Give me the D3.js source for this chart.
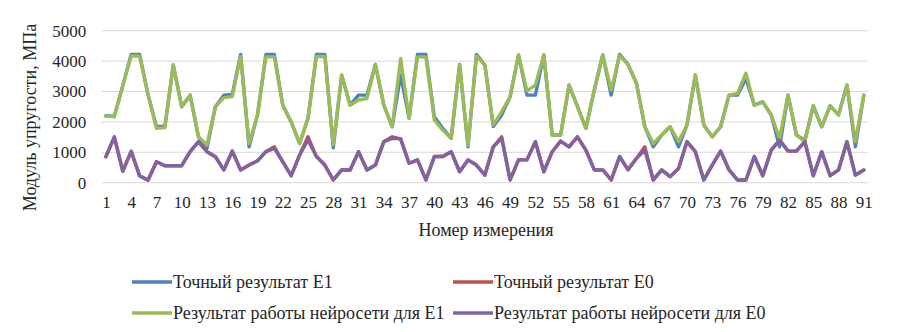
<!DOCTYPE html>
<html><head><meta charset="utf-8">
<script src="https://cdn.jsdelivr.net/npm/d3@7"></script>
<style>html,body{margin:0;padding:0;background:#fff;} svg{display:block;}</style>
</head><body>
<svg id="chart" width="900" height="332"></svg>
<script>
const xTickLabels = [1,4,7,10,13,16,19,22,25,28,31,34,37,40,43,46,49,52,55,58,61,64,67,70,73,76,79,82,85,88,91];
const yTicks = [0,1000,2000,3000,4000,5000];
const seriesNames = ["Точный результат E1","Точный результат E0","Результат работы нейросети для E1","Результат работы нейросети для E0"];
const seriesColors = ["#4F81BD","#C0504D","#9BBB59","#8064A2"];

const exactE1 = [2200,2190,3190,4220,4220,2900,1850,1850,3870,2500,2880,1500,1130,2500,2880,2900,4220,1180,2230,4220,4220,2550,2000,1290,2120,4220,4220,1150,3540,2550,2880,2880,3890,2550,1840,3540,2120,4220,4220,2170,1790,1460,3890,1180,4220,3870,1850,2230,2830,4200,2880,2880,4200,1570,1570,3210,2500,1790,3050,4200,2880,4220,3890,3270,1840,1180,1570,1840,1180,1900,3540,1900,1510,1840,2880,2880,3430,2550,2660,2230,1180,2880,1570,1400,2530,1840,2530,2230,3210,1180,2880];
const exactE0 = [855,1510,380,1030,230,80,690,560,560,560,1020,1350,1020,855,420,1040,420,580,720,1020,1180,690,230,910,1510,860,580,90,420,420,1020,420,580,1350,1510,1440,640,750,90,860,860,1020,360,750,580,250,1180,1510,90,750,750,1350,360,1020,1370,1180,1510,1070,420,420,90,860,440,800,1180,90,420,200,470,1350,1020,90,580,1040,420,90,90,860,230,1070,1400,1040,1040,1350,230,1020,230,420,1350,250,420];
const nnE1 = [2190,2170,3190,4170,4170,2900,1790,1810,3870,2500,2880,1500,1240,2500,2800,2830,4150,1290,2230,4140,4140,2550,2000,1290,2120,4150,4150,1250,3540,2550,2720,2770,3890,2550,1840,4090,2120,4140,4140,2060,1730,1460,3890,1240,4170,3870,1900,2340,2830,4200,3020,3210,4200,1570,1570,3210,2500,1790,3050,4200,3050,4180,3890,3270,1840,1290,1570,1840,1350,1900,3540,1900,1510,1840,2880,2940,3600,2550,2660,2230,1460,2880,1570,1350,2530,1840,2530,2230,3210,1350,2880];
const nnE0 = [855,1500,380,1030,230,80,690,560,560,560,1020,1350,1020,855,420,1040,420,580,720,1020,1130,690,230,910,1400,860,580,90,420,420,1020,420,580,1350,1460,1440,640,750,90,860,860,1020,360,750,580,250,1180,1460,90,750,750,1350,360,1020,1370,1180,1510,1070,420,420,90,860,420,800,1070,90,420,200,470,1350,1020,90,580,1040,420,90,90,860,230,1070,1400,1040,1040,1350,230,1020,230,420,1350,250,420];

const series = [exactE1, exactE0, nnE1, nnE0];
const idx = d3.range(1, exactE1.length + 1);

const svg = d3.select("#chart");
const font = "'Liberation Serif','Times New Roman',serif";
const textColor = "#262626";
const fs = 18;
const plotLeft = 101.7, plotRight = 868, plotTop = 30.7, plotBottom = 182.7;

const x = d3.scalePoint().domain(idx).range([plotLeft, plotRight]).padding(0.5);
const y = d3.scaleLinear().domain([0, 5000]).range([plotBottom, plotTop]);

// gridlines
svg.append("g").selectAll("line").data(yTicks).join("line")
  .attr("x1", plotLeft).attr("x2", plotRight)
  .attr("y1", d => y(d)).attr("y2", d => y(d))
  .attr("stroke", "#D9D9D9").attr("stroke-width", 1);

// y axis
const yAxis = svg.append("g").attr("transform", `translate(${plotLeft},0)`)
  .call(d3.axisLeft(y).tickValues(yTicks).tickSize(0).tickPadding(15.5).tickFormat(d3.format("d")));
yAxis.select(".domain").remove();
yAxis.selectAll("text").attr("font-family", font).attr("font-size", 17).attr("fill", textColor);

// x axis
const xAxis = svg.append("g").attr("transform", `translate(0,${plotBottom})`)
  .call(d3.axisBottom(x).tickValues(xTickLabels).tickSize(0).tickPadding(13));
xAxis.select(".domain").remove();
xAxis.selectAll("text").attr("font-family", font).attr("font-size", 17).attr("fill", textColor);

// lines
const line = d3.line().x((d, i) => x(idx[i])).y(d => y(d));
svg.append("g").selectAll("path").data(series).join("path")
  .attr("d", d => line(d))
  .attr("fill", "none")
  .attr("stroke", (d, i) => seriesColors[i])
  .attr("stroke-width", 3.4)
  .attr("stroke-linejoin", "round")
  .attr("stroke-linecap", "round");

// axis titles
svg.append("text").attr("x", 486).attr("y", 235.5).attr("text-anchor", "middle")
  .attr("font-family", font).attr("font-size", fs).attr("fill", textColor).text("Номер измерения");
svg.append("text").attr("transform", "translate(36,117.5) rotate(-90)").attr("text-anchor", "middle")
  .attr("font-family", font).attr("font-size", fs).attr("fill", textColor).text("Модуль упругости, МПа");

// legend
const legendPos = [[132,282],[453,282],[132,313],[453,313]];
const lg = svg.append("g").selectAll("g").data(seriesNames).join("g")
  .attr("transform", (d, i) => `translate(${legendPos[i][0]},${legendPos[i][1]})`);
lg.append("line").attr("x1", 0).attr("x2", 40).attr("y1", 0).attr("y2", 0)
  .attr("stroke", (d, i) => seriesColors[i]).attr("stroke-width", 3.4);
lg.append("text").attr("x", 41).attr("y", 6.3)
  .attr("font-family", font).attr("font-size", fs).attr("fill", textColor).text(d => d);
</script>
</body></html>
